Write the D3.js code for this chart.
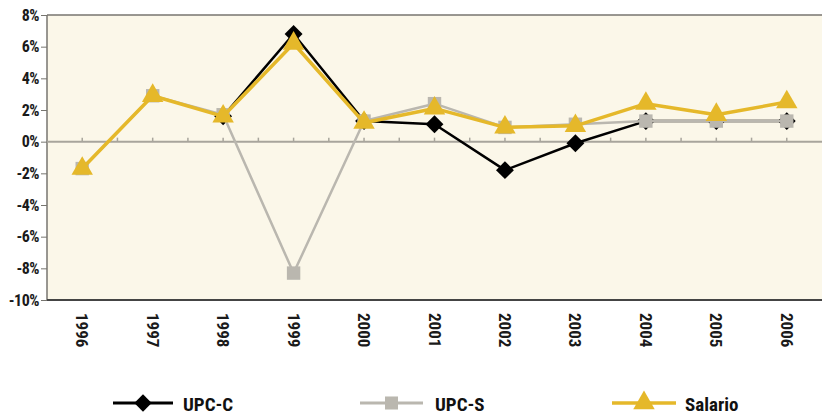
<!DOCTYPE html>
<html><head><meta charset="utf-8">
<script src="https://cdn.jsdelivr.net/npm/d3@7"></script>
<style>
body{margin:0;background:#fff;}
svg{display:block;}
text{font-family:"Liberation Sans Narrow","Roboto Condensed","Liberation Sans",sans-serif;}
</style></head>
<body><svg id="c" width="822" height="417"></svg>
<script>
const years = ["1996","1997","1998","1999","2000","2001","2002","2003","2004","2005","2006"];
const upcC = [null, null, 1.6, 6.8, 1.3, 1.1, -1.8, -0.1, 1.3, 1.3, 1.3];
const upcS = [-1.7, 2.9, 1.7, -8.3, 1.3, 2.4, 0.9, 1.1, 1.3, 1.3, 1.3];
const salario = [-1.7, 2.9, 1.6, 6.2, 1.2, 2.1, 0.9, 1.0, 2.4, 1.7, 2.5];
const yTicks = [8, 6, 4, 2, 0, -2, -4, -6, -8, -10];
const seriesNames = ["UPC-C", "UPC-S", "Salario"];

const svg = d3.select("#c");
const L = 47, R = 822, T = 15, B = 300;
const x = d3.scalePoint().domain(years).range([L, R]).padding(0.5);
const y = d3.scaleLinear().domain([-10, 8]).range([B, T]);

svg.append("rect").attr("x", L).attr("y", T).attr("width", R - L).attr("height", B - T).attr("fill", "#fbf7e9");
svg.append("line").attr("x1", L).attr("x2", R).attr("y1", T).attr("y2", T).attr("stroke", "#77756f").attr("stroke-width", 1.5);
svg.append("line").attr("x1", L).attr("x2", L).attr("y1", T).attr("y2", B).attr("stroke", "#77756f").attr("stroke-width", 1.5);
svg.append("line").attr("x1", L).attr("x2", R).attr("y1", B).attr("y2", B).attr("stroke", "#444").attr("stroke-width", 2);

const yAxis = d3.axisLeft(y).tickValues(yTicks).tickSize(6).tickFormat(d => d + "%");
const ya = svg.append("g").attr("transform", `translate(${L},0)`).call(yAxis);
ya.select(".domain").remove();
ya.selectAll(".tick line").attr("stroke", "#77756f");
ya.selectAll(".tick text").attr("font-size", 16).attr("font-weight", "bold").attr("fill", "#1a1a1a").attr("x", -8)
  .attr("letter-spacing", "-0.5px");

svg.append("line").attr("x1", L).attr("x2", R).attr("y1", y(0)).attr("y2", y(0)).attr("stroke", "#a8a59c").attr("stroke-width", 2);
const step = x.step();
const tickXs = [];
years.forEach(yr => { tickXs.push(x(yr)); tickXs.push(x(yr) + step / 2); });
svg.append("g").selectAll("line").data(tickXs.filter(v => v < R)).join("line")
  .attr("x1", d => d).attr("x2", d => d).attr("y1", y(0)).attr("y2", y(0) - 4)
  .attr("stroke", "#a8a59c").attr("stroke-width", 1.5);

svg.append("g").selectAll("text").data(years).join("text")
  .attr("transform", d => `translate(${x(d) - 6},313) rotate(90)`)
  .attr("font-size", 17).attr("font-weight", "bold").attr("fill", "#1a1a1a")
  .attr("text-anchor", "start")
  .text(d => d);

const colC = "#000000", colS = "#bab7af", colSal = "#e5b82a";
const line = d3.line().defined(d => d.v !== null).x(d => x(d.k)).y(d => y(d.v));
function data(arr){ return years.map((k, i) => ({k, v: arr[i]})); }

const diamondSym = d3.symbol().type(d3.symbolSquare).size(160);
const squareSym = d3.symbol().type(d3.symbolSquare).size(180);
const triSym = d3.symbol().type(d3.symbolTriangle).size(200);

function drawSeries(arr, col, w, sym, rot){
  const d = data(arr);
  svg.append("path").datum(d).attr("d", line).attr("fill", "none").attr("stroke", col).attr("stroke-width", w).attr("stroke-linejoin", "round");
  svg.append("g").selectAll("path").data(d.filter(p => p.v !== null)).join("path")
    .attr("transform", p => `translate(${x(p.k)},${y(p.v)}) rotate(${rot})`)
    .attr("d", sym).attr("fill", col);
}
drawSeries(upcC, colC, 2.5, diamondSym, 45);
drawSeries(upcS, colS, 2.5, squareSym, 0);
drawSeries(salario, colSal, 3.5, triSym, 0);

const leg = [
  {name: seriesNames[0], col: colC, x1: 113, x2: 173, tx: 183, sym: d3.symbol().type(d3.symbolSquare).size(150), rot: 45},
  {name: seriesNames[1], col: colS, x1: 360, x2: 423, tx: 435, sym: d3.symbol().type(d3.symbolSquare).size(170), rot: 0},
  {name: seriesNames[2], col: colSal, x1: 612, x2: 676, tx: 685, sym: d3.symbol().type(d3.symbolTriangle).size(200), rot: 0}
];
const ly = 403;
leg.forEach(l => {
  svg.append("line").attr("x1", l.x1).attr("x2", l.x2).attr("y1", ly).attr("y2", ly).attr("stroke", l.col).attr("stroke-width", l.name === "Salario" ? 3.5 : 3);
  svg.append("path").attr("d", l.sym).attr("fill", l.col).attr("transform", `translate(${(l.x1 + l.x2) / 2},${ly}) rotate(${l.rot})`);
  svg.append("text").attr("x", l.tx).attr("y", 411).attr("font-size", 19).attr("font-weight", "bold").attr("fill", "#111").text(l.name);
});
</script>
</body></html>
